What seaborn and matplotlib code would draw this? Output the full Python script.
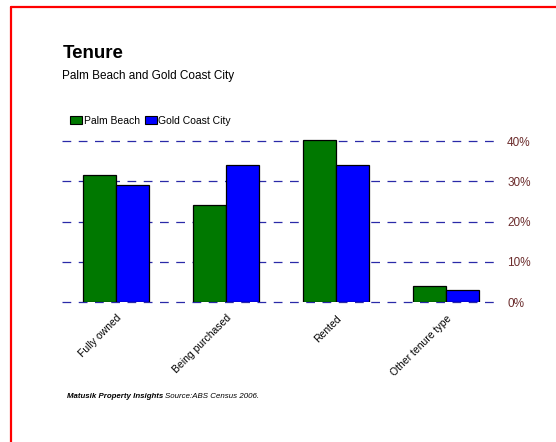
import matplotlib
matplotlib.use("Agg")
import matplotlib.pyplot as plt
import seaborn as sns
import pandas as pd
from matplotlib.lines import Line2D

categories = ["Fully owned", "Being purchased", "Rented", "Other tenure type"]
palm_beach = [31.5, 24.1, 40.2, 4.1]
gold_coast = [29.1, 34.1, 34.1, 2.9]
series = ["Palm Beach", "Gold Coast City"]
yticks = [0, 10, 20, 30, 40]

df = pd.DataFrame({
    "tenure": categories * 2,
    "pct": palm_beach + gold_coast,
    "area": [series[0]] * 4 + [series[1]] * 4,
})

sns.set_style("white")
plt.rcParams["font.family"] = ["Liberation Sans", "DejaVu Sans"]
plt.rcParams["text.color"] = "black"
plt.rcParams["xtick.color"] = "black"

fig = plt.figure(figsize=(5.56, 4.42), dpi=100)
ax = fig.add_axes([0.1115, 0.3167, 0.7842, 0.3824])

sns.barplot(data=df, x="tenure", y="pct", hue="area", order=categories,
            hue_order=series, palette=["#007800", "#0000ff"], width=0.6,
            edgecolor="black", linewidth=0.9, saturation=1, legend=False, ax=ax)

ax.set_xlim(-0.49, 3.47)
ax.set_ylim(0, 42)
ax.set_yticks(yticks)
ax.set_yticklabels([f"{v}%" for v in yticks])
ax.yaxis.tick_right()
ax.tick_params(axis="y", length=0, labelsize=8.5, labelcolor="#6b2c2c", pad=6.5)
ax.tick_params(axis="x", length=0, labelsize=7.5, pad=8, labelcolor="black")
for lab in ax.get_xticklabels():
    lab.set_rotation(45)
    lab.set_ha("right")
    lab.set_rotation_mode("anchor")
ax.set_xlabel("")
ax.set_ylabel("")
for s in ax.spines.values():
    s.set_visible(False)
ax.set_axisbelow(True)
ax.yaxis.grid(True, color="#2a2aa8", linestyle=(0, (7, 6)), linewidth=0.9)
for gl in ax.get_ygridlines():
    gl.set_clip_on(False)

# legend
handles = [plt.Rectangle((0, 0), 1, 1, facecolor=c, edgecolor="black", linewidth=0.8)
           for c in ["#007800", "#0000ff"]]
fig.legend(handles, series, loc="center left", bbox_to_anchor=(0.126, 0.727),
           ncol=2, frameon=False, fontsize=7.5, handlelength=1.15, handleheight=0.8,
           handletextpad=0.15, columnspacing=0.5, borderaxespad=0, borderpad=0,
           labelcolor="black")

fig.text(0.112, 0.86, "Tenure", fontsize=13.5, fontweight="bold", va="bottom", color="black")
fig.text(0.112, 0.815, "Palm Beach and Gold Coast City", fontsize=8.5, va="bottom", color="black")

fig.text(0.12, 0.104, "Matusik Property Insights", fontsize=5.7, fontweight="bold",
         style="italic", va="center", color="black")
fig.text(0.297, 0.104, "Source:ABS Census 2006.", fontsize=5.7, style="italic",
         va="center", color="black")

# red frame (top and left)
fig.add_artist(Line2D([11 / 556, 11 / 556], [0, 1 - 7 / 442], color="red", linewidth=1.6))
fig.add_artist(Line2D([11 / 556, 1], [1 - 7 / 442, 1 - 7 / 442], color="red", linewidth=1.6))

fig.savefig("out.png", dpi=100, facecolor="white")
